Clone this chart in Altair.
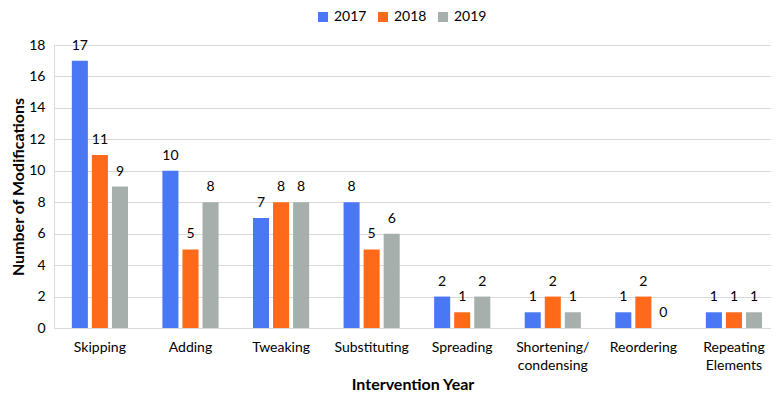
import altair as alt
import pandas as pd

categories = ["Skipping", "Adding", "Tweaking", "Substituting", "Spreading",
              "Shortening/ condensing", "Reordering", "Repeating Elements"]
years = ["2017", "2018", "2019"]
v2017 = [17, 10, 7, 8, 2, 1, 1, 1]
v2018 = [11, 5, 8, 5, 1, 2, 2, 1]
v2019 = [9, 8, 8, 6, 2, 1, 0, 1]
colors = ["#4A78F5", "#FF6A1A", "#A7AFAC"]

rows = []
for yr, vals in zip(years, [v2017, v2018, v2019]):
    for c, v in zip(categories, vals):
        rows.append({"cat": c, "year": yr, "val": v})
df = pd.DataFrame(rows)

FONT = "Lato"

x = alt.X("cat:N", sort=categories, title="Intervention Year",
          scale=alt.Scale(paddingInner=0.38, paddingOuter=0.148, align=0.665),
          axis=alt.Axis(labelAngle=0, labelExpr="split(datum.label, ' ')",
                        labelFontSize=14, labelColor="#000", labelFont=FONT,
                        labelPadding=12, ticks=False, domain=False,
                        titleFontSize=16, titleFont=FONT, titleColor="#000",
                        titleFontWeight="bold", titlePadding=4, labelLimit=200,
                        labelLineHeight=18))
xo = alt.XOffset("year:N", sort=years,
                 scale=alt.Scale(paddingInner=0.2, paddingOuter=0))
y = alt.Y("val:Q", title="Number of Modifications",
          scale=alt.Scale(domain=[0, 18], nice=False),
          axis=alt.Axis(values=list(range(0, 19, 2)), labelFontSize=14,
                        labelColor="#000", labelFont=FONT, ticks=False,
                        domain=False, labelPadding=9, gridColor="#D9D9D9",
                        titleFontSize=16, titleFont=FONT, titleColor="#000",
                        titleFontWeight="bold", titlePadding=2))
color = alt.Color("year:N", sort=years,
                  scale=alt.Scale(domain=years, range=colors),
                  legend=alt.Legend(orient="none", legendX=262, legendY=-35,
                                    direction="horizontal", title=None,
                                    symbolType="square", symbolSize=100,
                                    labelFontSize=14, labelFont=FONT,
                                    labelColor="#000", columnPadding=9,
                                    labelOffset=4, symbolStrokeWidth=0))

base = alt.Chart(df).encode(x=x, xOffset=xo, y=y)
bars = base.mark_bar().encode(color=color)
labels = base.mark_text(baseline="bottom", dy=-8, fontSize=14, font=FONT,
                        color="#000").encode(text="val:Q")

chart = (bars + labels).properties(width=717, height=283).configure_view(
    stroke=None).configure(padding={"left": 2, "top": 2, "right": 0, "bottom": 0})
chart.save("out.html", embed_options={"renderer": "svg", "actions": False})
